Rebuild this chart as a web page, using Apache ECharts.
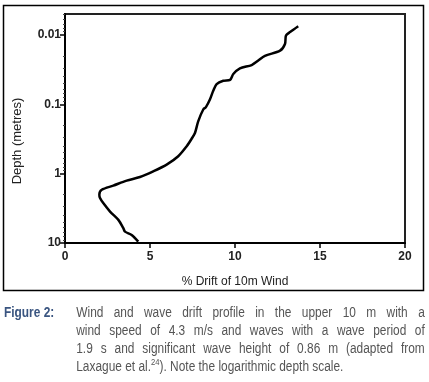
<!DOCTYPE html>
<html>
<head>
<meta charset="utf-8">
<script src="https://cdn.jsdelivr.net/npm/echarts@6/dist/echarts.min.js"></script>
<style>
  html, body { margin: 0; padding: 0; background: #fff; }
  #wrap { position: relative; width: 429px; height: 382px; overflow: hidden; }
  #chart { position: absolute; left: 0; top: 0; width: 429px; height: 382px; }
  /* no narrow font installed, so squeeze the caption horizontally */
  #caption {
    position: absolute; left: 4px; top: 303px; width: 495px;
    transform: scaleX(0.85); transform-origin: 0 0;
    font-family: 'Liberation Sans', Arial, sans-serif;
    font-size: 14px; line-height: 18px; color: #555;
  }
  #caption .lab { position: absolute; left: 0; top: 0; font-weight: bold; color: #3a5580; }
  #caption .txt { margin-left: 85px; }
  #caption .ln { text-align: justify; text-align-last: justify; white-space: nowrap; }
  #caption .ln.last { text-align-last: left; }
</style>
</head>
<body>
<div id="wrap">
  <div id="chart"></div>
  <div id="caption">
    <span class="lab">Figure 2:</span>
    <div class="txt">
      <div class="ln">Wind and wave drift profile in the upper 10 m with a</div>
      <div class="ln">wind speed of 4.3 m/s and waves with a wave period of</div>
      <div class="ln">1.9 s and significant wave height of 0.86 m (adapted from</div>
      <div class="ln last">Laxague et al.<sup style="font-size:9px;line-height:0">24</sup>). Note the logarithmic depth scale.</div>
    </div>
  </div>
</div>
<script>
const FONT = "'Liberation Sans', Arial, sans-serif";

// % drift of 10 m wind (surface to 10 m)
const drift = [13.72, 13.24, 13.0, 12.94, 12.65, 11.76, 11.35, 10.98, 10.29, 9.9, 9.71, 9.31,
  8.92, 8.72, 8.53, 8.29, 8.14, 7.84, 7.65, 7.45, 7.16, 6.66, 5.98, 5.19, 4.41, 3.63, 2.84,
  2.16, 2.02, 2.06, 2.25, 2.65, 3.14, 3.43, 3.53, 3.92, 4.31];
// depth in metres
const depth = [0.0075, 0.0091, 0.0102, 0.0135, 0.0169, 0.02, 0.0236, 0.0272, 0.0304, 0.0367,
  0.0445, 0.0459, 0.0513, 0.0641, 0.0847, 0.11, 0.118, 0.175, 0.257, 0.314, 0.402, 0.561,
  0.741, 0.927, 1.12, 1.26, 1.49, 1.71, 2.01, 2.25, 2.66, 3.52, 4.64, 6.12, 6.86, 7.66, 9.57];

const xTicks = [0, 5, 10, 15, 20];
const depthMajor = [0.01, 0.1, 1, 10];
const depthMinor = [0.005, 0.006, 0.007, 0.008, 0.009,
  0.02, 0.03, 0.04, 0.05, 0.06, 0.07, 0.08, 0.09,
  0.2, 0.3, 0.4, 0.5, 0.6, 0.7, 0.8, 0.9,
  2, 3, 4, 5, 6, 7, 8, 9];

const chart = echarts.init(document.getElementById('chart'), null, { renderer: 'canvas' });

const yBase = {
  type: 'log',
  logBase: 10,
  min: 0.005,
  max: 10,
  inverse: true,
  splitLine: { show: false }
};

const option = {
  animation: false,
  backgroundColor: '#fff',
  grid: {
    left: 65, right: 24, top: 14, bottom: 139,
    show: true,
    borderColor: '#222',
    borderWidth: 2
  },
  xAxis: {
    type: 'value',
    min: 0,
    max: 20,
    interval: 5,
    name: '% Drift of 10m Wind',
    nameLocation: 'middle',
    nameGap: 33,
    nameTextStyle: { fontFamily: FONT, fontSize: 12, color: '#222' },
    axisLine: { show: true, lineStyle: { color: '#000', width: 2 } },
    axisTick: { show: true, length: 5, lineStyle: { color: '#000', width: 1.5 }, customValues: xTicks },
    axisLabel: { fontFamily: FONT, fontSize: 12, color: '#222', fontWeight: 'bold', margin: 8, customValues: xTicks },
    splitLine: { show: false }
  },
  yAxis: [
    Object.assign({}, yBase, {
      axisLine: { show: true, lineStyle: { color: '#000', width: 2 } },
      axisTick: { show: true, length: 5, lineStyle: { color: '#000', width: 1.5 }, customValues: depthMajor },
      axisLabel: { fontFamily: FONT, fontSize: 12, color: '#222', fontWeight: 'bold', margin: 4,
        customValues: depthMajor, formatter: (v) => String(v) }
    }),
    Object.assign({}, yBase, {
      position: 'left',
      axisLine: { show: false },
      axisTick: { show: true, length: 2, lineStyle: { color: '#444', width: 1 }, customValues: depthMinor },
      axisLabel: { show: false }
    })
  ],
  graphic: [
    {
      type: 'rect',
      shape: { x: 3.5, y: 5.5, width: 420, height: 285 },
      style: { fill: null, stroke: '#000', lineWidth: 1.5 },
      z: -1
    },
    {
      type: 'text',
      x: 17,
      y: 141,
      rotation: Math.PI / 2,
      style: {
        text: 'Depth (metres)',
        font: '13px ' + FONT,
        fill: '#222',
        textAlign: 'center',
        textVerticalAlign: 'middle'
      }
    }
  ],
  series: [
    {
      type: 'line',
      yAxisIndex: 0,
      data: drift.map((v, i) => [v, depth[i]]),
      showSymbol: false,
      smooth: 0.3,
      lineStyle: { color: '#000', width: 2.5 }
    }
  ]
};

chart.setOption(option);
</script>
</body>
</html>
